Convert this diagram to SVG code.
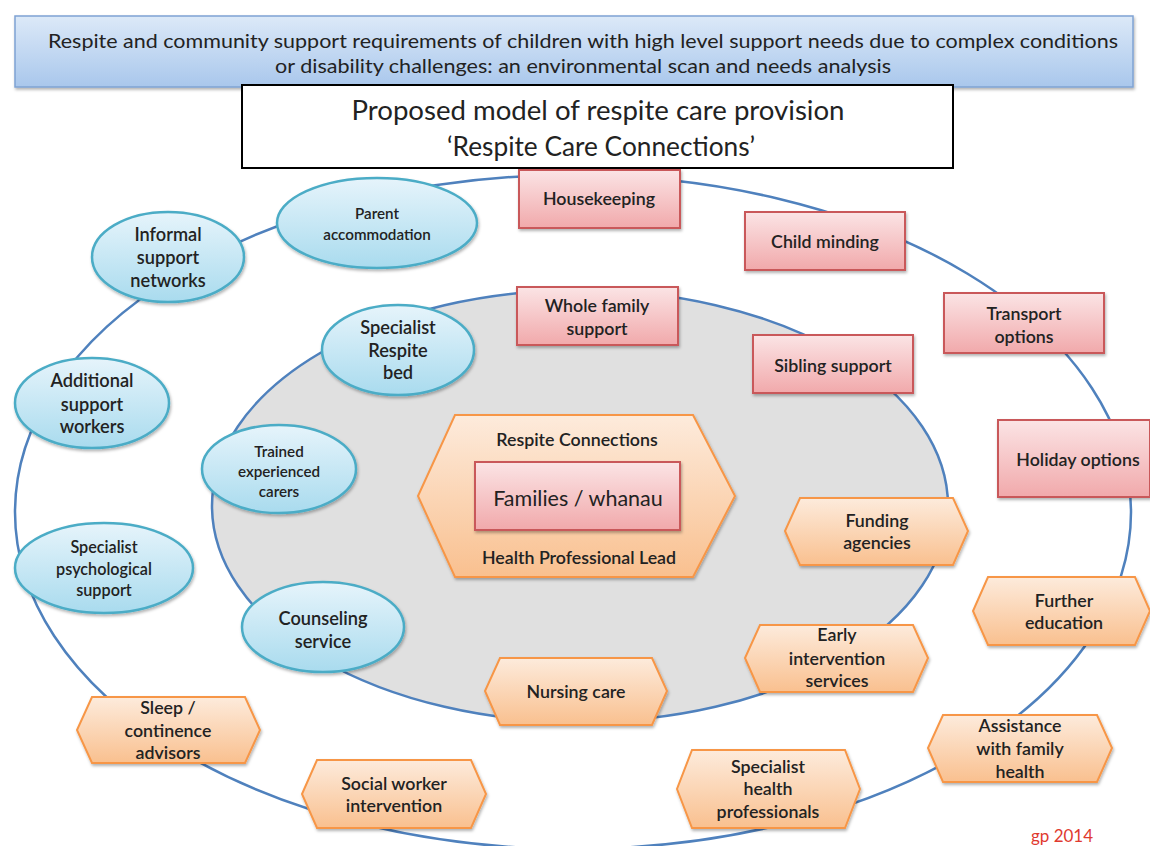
<svg xmlns="http://www.w3.org/2000/svg" width="1150" height="846" viewBox="0 0 1150 846">
<defs>
<linearGradient id="gBlue" x1="0" y1="0" x2="0" y2="1"><stop offset="0" stop-color="#e6f4fb"/><stop offset="1" stop-color="#a9dbee"/></linearGradient>
<linearGradient id="gRed" x1="0" y1="0" x2="0" y2="1"><stop offset="0" stop-color="#fbe4e5"/><stop offset="1" stop-color="#f1a9ab"/></linearGradient>
<linearGradient id="gOr" x1="0" y1="0" x2="0" y2="1"><stop offset="0" stop-color="#fdebdc"/><stop offset="1" stop-color="#f9c08f"/></linearGradient>
<linearGradient id="gTitle" x1="0" y1="0" x2="0" y2="1"><stop offset="0" stop-color="#dce9f8"/><stop offset="1" stop-color="#a9c7ec"/></linearGradient>
<filter id="sh" x="-10%" y="-10%" width="125%" height="130%"><feDropShadow dx="1" dy="2" stdDeviation="1.5" flood-color="#000" flood-opacity="0.3"/></filter>
</defs>
<style>
.t{font-family:Lato,"Liberation Sans",sans-serif;fill:#222;text-anchor:middle}
.b{font-size:18.2px;font-weight:600}
.s{font-size:15.2px;font-weight:600}
.m{font-size:17.8px;font-weight:600}
.p{font-size:16.2px;font-weight:600}
.ell{fill:url(#gBlue);stroke:#4bacc6;stroke-width:2.5;filter:url(#sh)}
.rec{fill:url(#gRed);stroke:#c9585a;stroke-width:2;filter:url(#sh)}
.hex{fill:url(#gOr);stroke:#f79646;stroke-width:2;filter:url(#sh)}
.ring{fill:none;stroke:#4f81bd;stroke-width:2.5}
</style>
<rect width="1150" height="846" fill="#fff"/>

<g id="header">
<rect x="15" y="16" width="1118" height="71" fill="url(#gTitle)" stroke="#7fa3d3" stroke-width="1.5" filter="url(#sh)"/>
<text class="t" x="583" y="48" font-size="19" textLength="1070" lengthAdjust="spacingAndGlyphs">Respite and community support requirements of children with high level support needs due to complex conditions</text>
<text class="t" x="583" y="73" font-size="19" textLength="616" lengthAdjust="spacingAndGlyphs">or disability challenges: an environmental scan and needs analysis</text>
<rect x="242" y="85" width="711" height="83" fill="#fff" stroke="#000" stroke-width="2"/>
<text class="t" x="598" y="120" font-size="26" fill="#111" textLength="493" lengthAdjust="spacingAndGlyphs">Proposed model of respite care provision</text>
<text class="t" x="601" y="156" font-size="26" fill="#111" textLength="308" lengthAdjust="spacingAndGlyphs">‘Respite Care Connections’</text>
</g>

<g id="connectors">
<ellipse class="ring" cx="573" cy="512" rx="558" ry="337"/>
<ellipse cx="580" cy="506" rx="368" ry="216" fill="#e0e0e0" stroke="#4f81bd" stroke-width="2.5"/>
</g>

<g id="n-informal"><ellipse class="ell" cx="168" cy="257" rx="76" ry="45"/><text class="t b" x="168" y="241">Informal</text><text class="t b" x="168" y="264">support</text><text class="t b" x="168" y="287">networks</text></g>
<g id="n-parent"><ellipse class="ell" cx="377" cy="223" rx="100" ry="45"/><text class="t s" x="377" y="219">Parent</text><text class="t s" x="377" y="240">accommodation</text></g>
<g id="n-additional"><ellipse class="ell" cx="92" cy="403" rx="77" ry="45"/><text class="t b" x="92" y="387">Additional</text><text class="t b" x="92" y="411">support</text><text class="t b" x="92" y="433">workers</text></g>
<g id="n-bed"><ellipse class="ell" cx="398" cy="350" rx="76" ry="45"/><text class="t b" x="398" y="334">Specialist</text><text class="t b" x="398" y="357">Respite</text><text class="t b" x="398" y="379">bed</text></g>
<g id="n-trained"><ellipse class="ell" cx="279" cy="469" rx="77" ry="44"/><text class="t s" x="279" y="457">Trained</text><text class="t s" x="279" y="477">experienced</text><text class="t s" x="279" y="497">carers</text></g>
<g id="n-psych"><ellipse class="ell" cx="104" cy="568" rx="89" ry="45"/><text class="t p" x="104" y="553">Specialist</text><text class="t p" x="104" y="575">psychological</text><text class="t p" x="104" y="596">support</text></g>
<g id="n-counsel"><ellipse class="ell" cx="323" cy="627" rx="81" ry="45"/><text class="t b" x="323" y="625">Counseling</text><text class="t b" x="323" y="648">service</text></g>

<g id="n-housekeeping"><rect class="rec" x="519" y="170" width="161" height="58"/><text class="t m" x="599" y="205">Housekeeping</text></g>
<g id="n-child"><rect class="rec" x="745" y="212" width="160" height="58"/><text class="t m" x="825" y="248">Child minding</text></g>
<g id="n-transport"><rect class="rec" x="944" y="293" width="160" height="60"/><text class="t m" x="1024" y="320">Transport</text><text class="t m" x="1024" y="343">options</text></g>
<g id="n-holiday"><rect class="rec" x="998" y="420" width="152" height="77"/><text class="t m" x="1078" y="466">Holiday options</text></g>
<g id="n-whole"><rect class="rec" x="517" y="287" width="161" height="58"/><text class="t m" x="597" y="312">Whole family</text><text class="t m" x="597" y="335">support</text></g>
<g id="n-sibling"><rect class="rec" x="753" y="335" width="160" height="58"/><text class="t m" x="833" y="372">Sibling support</text></g>

<g id="n-center">
<polygon class="hex" points="455,415 693,415 735,496 693,577 455,577 418,496"/>
<text class="t m" x="577" y="446">Respite Connections</text>
<text class="t m" x="579" y="564">Health Professional Lead</text>
</g>
<g id="n-families"><rect class="rec" x="475" y="462" width="205" height="68"/><text class="t" x="578" y="506" font-size="21.5">Families / whanau</text></g>

<g id="n-funding"><polygon class="hex" points="800,498 953,498 968,531 953,565 800,565 785,531"/><text class="t m" x="877" y="527">Funding</text><text class="t m" x="877" y="549">agencies</text></g>
<g id="n-further"><polygon class="hex" points="988,577 1135,577 1150,611 1135,645 988,645 973,611"/><text class="t m" x="1064" y="607">Further</text><text class="t m" x="1064" y="629">education</text></g>
<g id="n-early"><polygon class="hex" points="760,625 913,625 928,658 913,692 760,692 745,658"/><text class="t m" x="837" y="641">Early</text><text class="t m" x="837" y="665">intervention</text><text class="t m" x="837" y="687">services</text></g>
<g id="n-nursing"><polygon class="hex" points="500,658 652,658 667,691 652,725 500,725 485,691"/><text class="t m" x="576" y="698">Nursing care</text></g>
<g id="n-assist"><polygon class="hex" points="943,715 1097,715 1112,748 1097,782 943,782 928,748"/><text class="t m" x="1020" y="732">Assistance</text><text class="t m" x="1020" y="755">with family</text><text class="t m" x="1020" y="778">health</text></g>
<g id="n-spechealth"><polygon class="hex" points="692,750 845,750 860,789 845,828 692,828 677,789"/><text class="t m" x="768" y="773">Specialist</text><text class="t m" x="768" y="795">health</text><text class="t m" x="768" y="818">professionals</text></g>
<g id="n-social"><polygon class="hex" points="317,760 471,760 486,794 471,828 317,828 302,794"/><text class="t m" x="394" y="790">Social worker</text><text class="t m" x="394" y="812">intervention</text></g>
<g id="n-sleep"><polygon class="hex" points="92,697 245,697 260,730 245,763 92,763 77,730"/><text class="t m" x="168" y="714">Sleep /</text><text class="t m" x="168" y="737">continence</text><text class="t m" x="168" y="759">advisors</text></g>

<text x="1062" y="842" font-family="Lato,'Liberation Sans',sans-serif" font-size="17" fill="#e03a2f" text-anchor="middle">gp 2014</text>
</svg>
